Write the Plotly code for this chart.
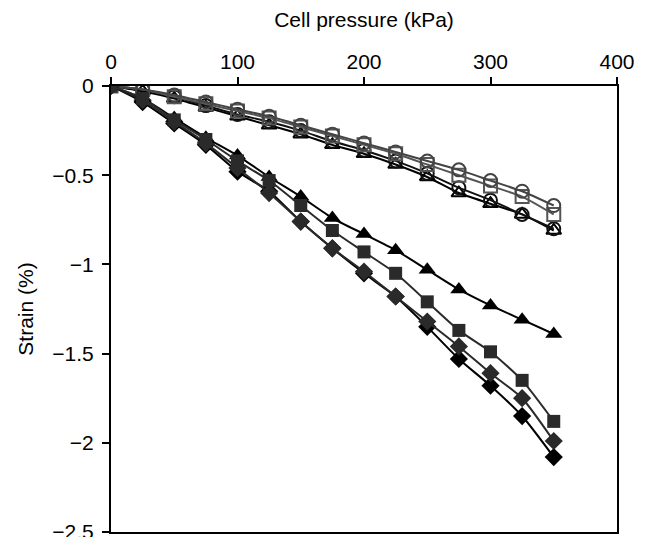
import plotly.graph_objects as go

pressure = [0, 25, 50, 75, 100, 125, 150, 175, 200, 225, 250, 275, 300, 325, 350]

open_circle_gray = [0, -0.02, -0.05, -0.09, -0.13, -0.17, -0.22, -0.27, -0.32, -0.37, -0.42, -0.47, -0.53, -0.59, -0.67]
open_square_gray = [0, -0.02, -0.06, -0.10, -0.14, -0.18, -0.23, -0.28, -0.33, -0.38, -0.44, -0.50, -0.56, -0.62, -0.72]
open_circle_black = [0, -0.02, -0.06, -0.11, -0.16, -0.20, -0.25, -0.31, -0.36, -0.42, -0.49, -0.57, -0.64, -0.72, -0.80]
open_triangle_black = [0, -0.03, -0.07, -0.12, -0.17, -0.22, -0.27, -0.33, -0.38, -0.44, -0.51, -0.60, -0.66, -0.72, -0.81]

filled_triangle = [0, -0.07, -0.18, -0.29, -0.39, -0.51, -0.62, -0.74, -0.83, -0.92, -1.03, -1.14, -1.23, -1.31, -1.39]
filled_square = [0, -0.07, -0.19, -0.30, -0.42, -0.53, -0.67, -0.81, -0.93, -1.05, -1.21, -1.37, -1.49, -1.65, -1.88]
filled_diamond_gray = [0, -0.08, -0.20, -0.32, -0.46, -0.60, -0.76, -0.91, -1.04, -1.18, -1.32, -1.46, -1.61, -1.75, -1.99]
filled_diamond_black = [0, -0.09, -0.21, -0.33, -0.48, -0.59, -0.76, -0.91, -1.05, -1.18, -1.35, -1.53, -1.68, -1.85, -2.08]

x_ticks = [0, 100, 200, 300, 400]
y_ticks = [0, -0.5, -1, -1.5, -2, -2.5]
y_tick_labels = ["0", "\u22120.5", "\u22121", "\u22121.5", "\u22122", "\u22122.5"]

series = [
    (open_triangle_black, "triangle-up-open", "#000000", 13),
    (open_circle_black, "circle-open", "#111111", 13),
    (open_square_gray, "square-open", "#555555", 13),
    (open_circle_gray, "circle-open", "#444444", 13),
    (filled_diamond_black, "diamond", "#000000", 14),
    (filled_diamond_gray, "diamond", "#2a2a2a", 14),
    (filled_triangle, "triangle-up", "#000000", 15),
    (filled_square, "square", "#2a2a2a", 13),
]

fig = go.Figure()
for ys, sym, col, sz in series:
    fig.add_trace(go.Scatter(
        x=pressure, y=ys, mode="lines+markers",
        line=dict(color=col, width=2, shape="spline", smoothing=0.6),
        marker=dict(symbol=sym, size=sz, color=col,
                    line=dict(color=col, width=2 if "open" in sym else 0)),
        showlegend=False,
    ))

font_family = "Liberation Sans, Arial, sans-serif"
fig.update_layout(
    width=650, height=537,
    margin=dict(l=111, r=33, t=86, b=3),
    plot_bgcolor="white", paper_bgcolor="white",
    font=dict(family=font_family, size=21, color="#000"),
    xaxis=dict(
        side="top", range=[0, 400], tickvals=x_ticks,
        tickfont=dict(size=21),
        showgrid=False, zeroline=False, showline=True, linecolor="#000",
        linewidth=2, mirror=True, ticks="outside", ticklen=7, tickwidth=2,
        tickcolor="#000",
        title=dict(text="Cell pressure (kPa)", font=dict(size=21), standoff=16),
    ),
    yaxis=dict(
        range=[-2.5, 0], tickvals=y_ticks, ticktext=y_tick_labels,
        tickfont=dict(size=21), ticklabeloverflow="allow", automargin=False,
        ticklabelstandoff=4,
        showgrid=False, zeroline=False, showline=True, linecolor="#000",
        linewidth=2, mirror=True, ticks="outside", ticklen=7, tickwidth=2,
        tickcolor="#000",
        title=dict(text="Strain (%)", font=dict(size=21), standoff=13),
    ),
)

fig.write_html("out.html")
